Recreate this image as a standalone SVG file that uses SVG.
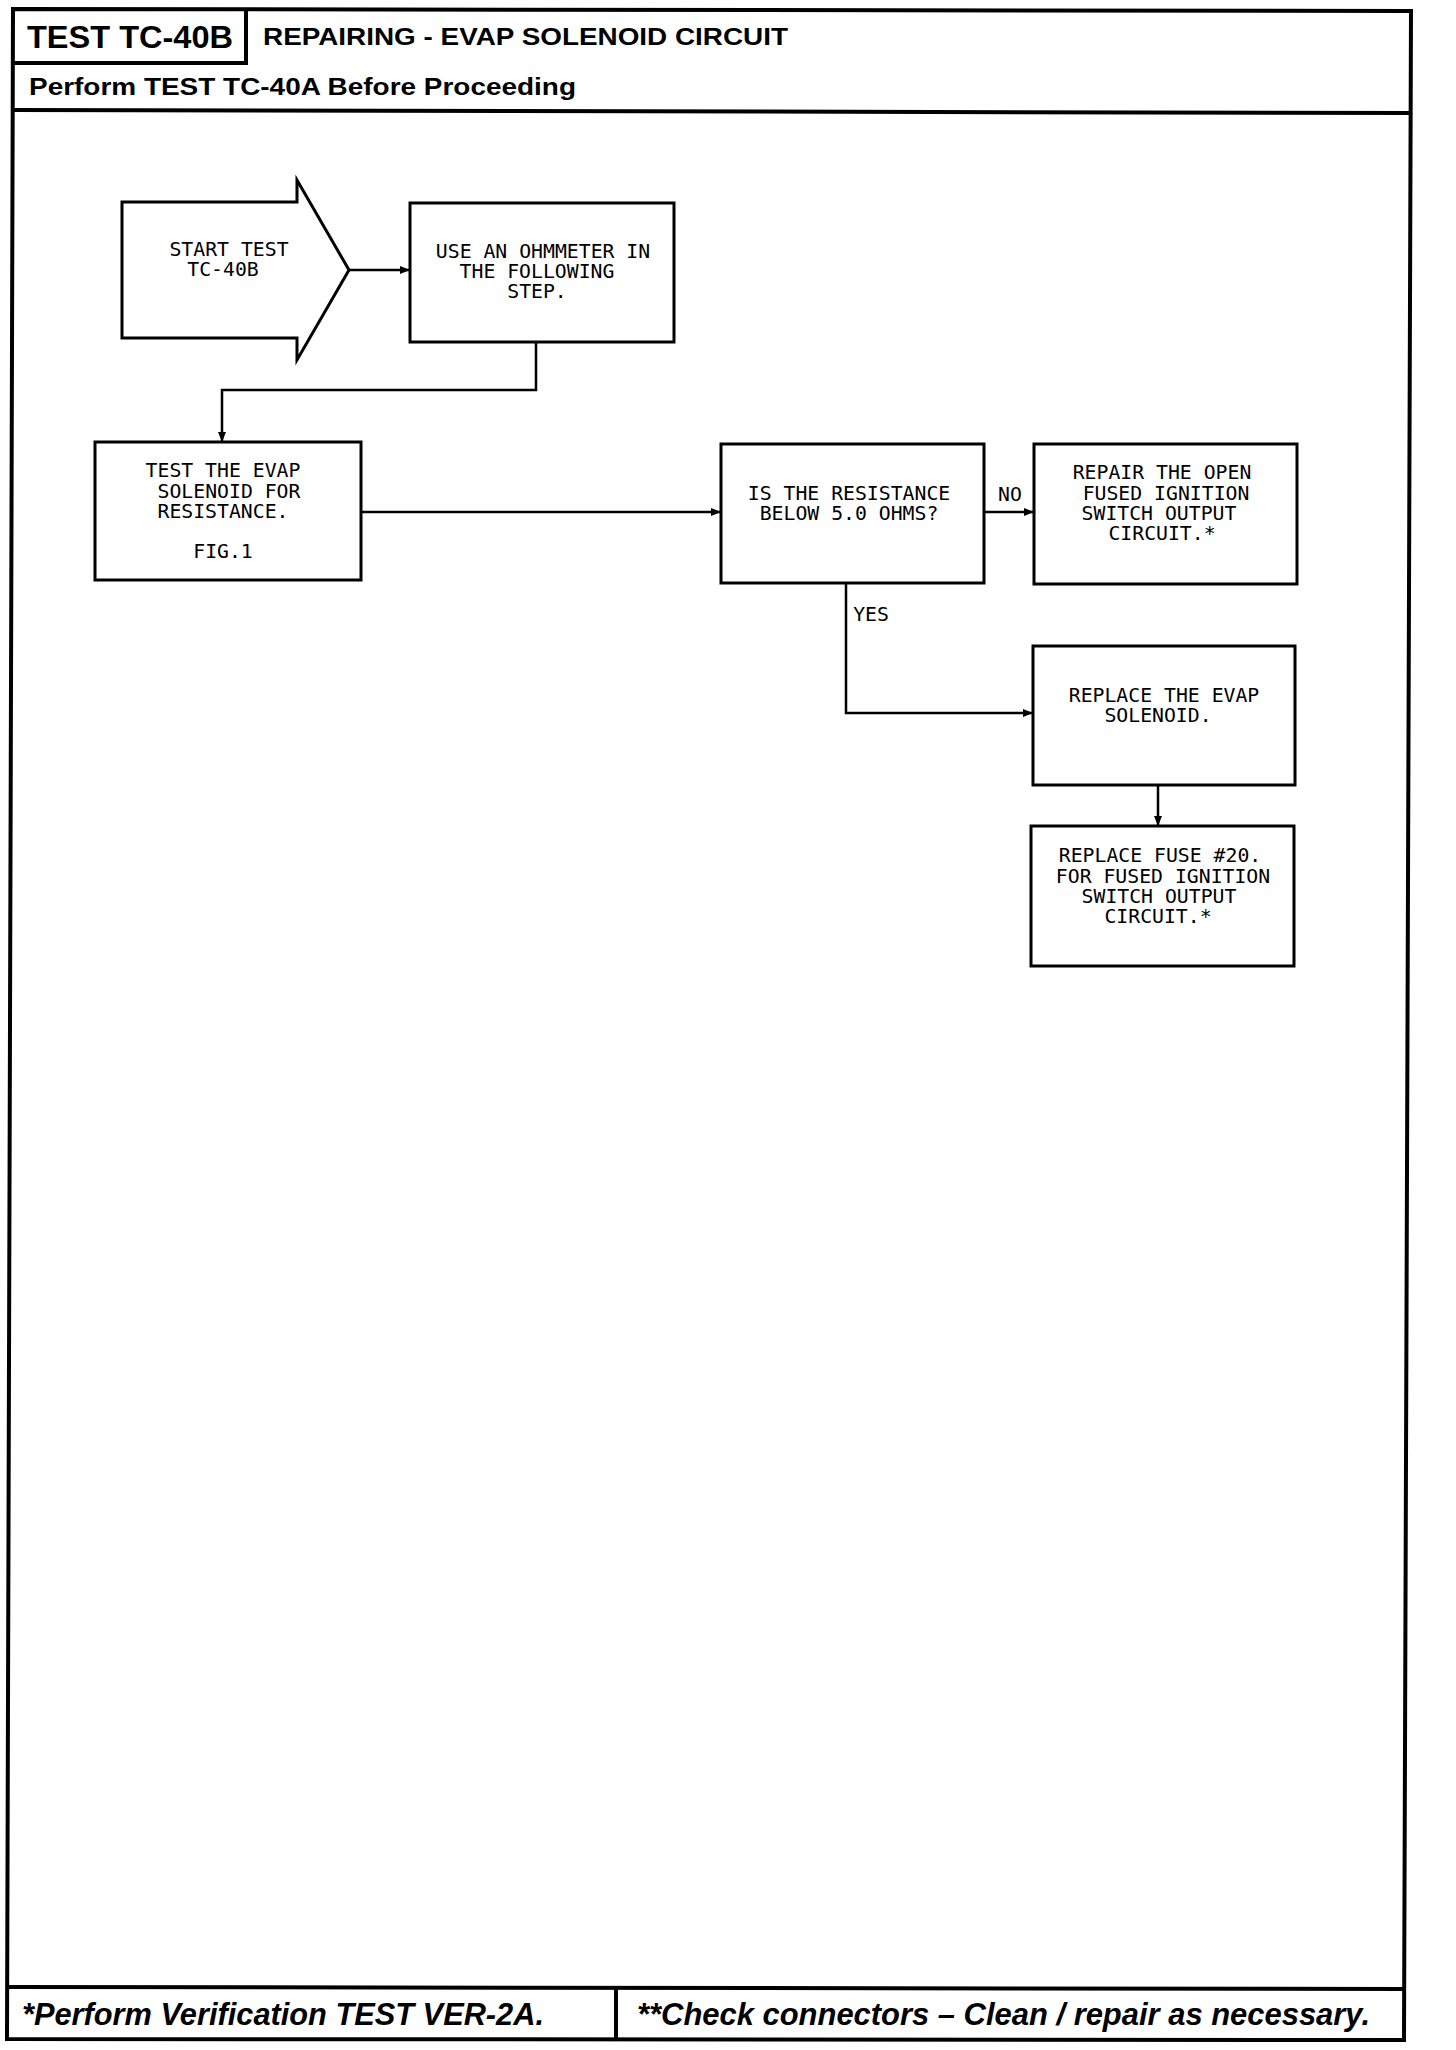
<svg xmlns="http://www.w3.org/2000/svg" width="1456" height="2050" viewBox="0 0 1456 2050">
<defs>
<marker id="ah" markerUnits="userSpaceOnUse" markerWidth="10" markerHeight="8" refX="10" refY="4" orient="auto">
<path d="M0,0 L10,4 L0,8 z" fill="#000"/>
</marker>
<style>
.frame{fill:none;stroke:#000;stroke-width:4;stroke-linejoin:miter}
.box{fill:none;stroke:#000;stroke-width:3}
.con{fill:none;stroke:#000;stroke-width:2.5;marker-end:url(#ah)}
.t{font-family:"DejaVu Sans Mono","Liberation Mono",monospace;font-size:19.8px;fill:#000;text-anchor:middle}
.h{font-family:"Liberation Sans",Arial,sans-serif;font-weight:bold;fill:#000}
.f{font-family:"Liberation Sans",Arial,sans-serif;font-weight:bold;font-style:italic;font-size:31px;fill:#000}
</style>
</defs>
<rect x="0" y="0" width="1456" height="2050" fill="#fff"/>
<g id="frame">
<polygon class="frame" points="13,9 1411,11 1404,2040 7,2039"/>
<polyline class="frame" points="13,63 246,63 246,9"/>
<line class="frame" x1="13" y1="110" x2="1411" y2="113"/>
<line class="frame" x1="7" y1="1987" x2="1404" y2="1989"/>
<line class="frame" x1="616" y1="1988" x2="616" y2="2040"/>
<text class="h" x="27" y="48" font-size="32" textLength="206" lengthAdjust="spacingAndGlyphs">TEST TC-40B</text>
<text class="h" x="263" y="45" font-size="24" textLength="525" lengthAdjust="spacingAndGlyphs">REPAIRING - EVAP SOLENOID CIRCUIT</text>
<text class="h" x="29" y="95" font-size="24" textLength="547" lengthAdjust="spacingAndGlyphs">Perform TEST TC-40A Before Proceeding</text>
<text class="f" x="22" y="2025" textLength="522" lengthAdjust="spacingAndGlyphs">*Perform Verification TEST VER-2A.</text>
<text class="f" x="637" y="2025" textLength="733" lengthAdjust="spacingAndGlyphs">**Check connectors – Clean / repair as necessary.</text>
</g>
<g id="connectors">
<line class="con" x1="349" y1="270" x2="410" y2="270"/>
<polyline class="con" points="536,342 536,390 222,390 222,442"/>
<line class="con" x1="361" y1="512" x2="721" y2="512"/>
<line class="con" x1="984" y1="512" x2="1034" y2="512"/>
<polyline class="con" points="846,583 846,713 1033,713"/>
<line class="con" x1="1158" y1="785" x2="1158" y2="826"/>
<text class="t" x="1010" y="501">NO</text>
<text class="t" x="871" y="621">YES</text>
</g>
<g id="start">
<polygon class="box" points="122,202 297,202 297,180 349,270 297,360 297,338 122,338"/>
<text class="t" x="229" y="256">START TEST</text>
<text class="t" x="223" y="276">TC-40B</text>
</g>
<g id="use">
<rect class="box" x="410" y="203" width="264" height="139"/>
<text class="t" x="543" y="258">USE AN OHMMETER IN</text>
<text class="t" x="537" y="278">THE FOLLOWING</text>
<text class="t" x="537" y="298">STEP.</text>
</g>
<g id="test">
<rect class="box" x="95" y="442" width="266" height="138"/>
<text class="t" x="223" y="477">TEST THE EVAP</text>
<text class="t" x="229" y="498">SOLENOID FOR</text>
<text class="t" x="223" y="518">RESISTANCE.</text>
<text class="t" x="223" y="558">FIG.1</text>
</g>
<g id="question">
<rect class="box" x="721" y="444" width="263" height="139"/>
<text class="t" x="849" y="500">IS THE RESISTANCE</text>
<text class="t" x="849" y="520">BELOW 5.0 OHMS?</text>
</g>
<g id="repair">
<rect class="box" x="1034" y="444" width="263" height="140"/>
<text class="t" x="1162" y="479">REPAIR THE OPEN</text>
<text class="t" x="1166" y="500">FUSED IGNITION</text>
<text class="t" x="1159" y="520">SWITCH OUTPUT</text>
<text class="t" x="1162" y="540">CIRCUIT.*</text>
</g>
<g id="replace-solenoid">
<rect class="box" x="1033" y="646" width="262" height="139"/>
<text class="t" x="1164" y="702">REPLACE THE EVAP</text>
<text class="t" x="1158" y="722">SOLENOID.</text>
</g>
<g id="replace-fuse">
<rect class="box" x="1031" y="826" width="263" height="140"/>
<text class="t" x="1160" y="862">REPLACE FUSE #20.</text>
<text class="t" x="1163" y="883">FOR FUSED IGNITION</text>
<text class="t" x="1159" y="903">SWITCH OUTPUT</text>
<text class="t" x="1158" y="923">CIRCUIT.*</text>
</g>
</svg>
